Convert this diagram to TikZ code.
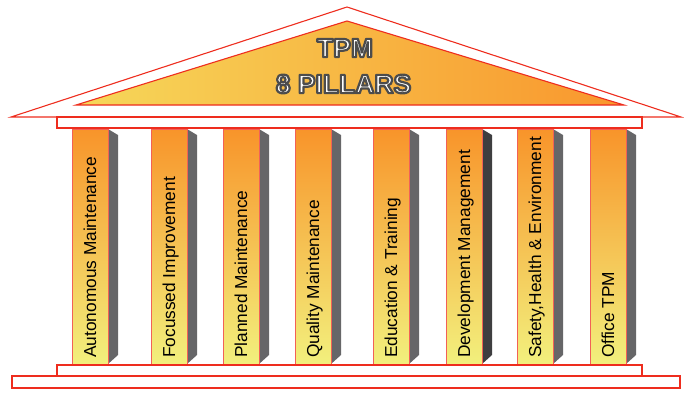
\documentclass[tikz,border=0pt]{standalone}
\usepackage{fontspec}
\setmainfont{Liberation Sans}
\definecolor{pilred}{RGB}{238,45,30}
\definecolor{porange}{RGB}{248,148,42}
\definecolor{pmid}{RGB}{247,196,80}
\definecolor{pyellow}{RGB}{242,240,125}
\definecolor{shadowgray}{RGB}{102,102,104}
\definecolor{shadowdark}{RGB}{62,62,64}
\definecolor{tyellow}{RGB}{246,216,90}
\definecolor{torange}{RGB}{249,150,45}
\tikzset{
  redbox/.style={draw=pilred, line width=1.1pt, fill=white},
  pillarfront/.style={draw=pilred!75, line width=0.7pt, top color=porange, middle color=pmid, bottom color=pyellow},
  pillartext/.style={rotate=90, anchor=base west, inner sep=0pt, font=\fontsize{17.3}{18}\selectfont, text=black},
  titletext/.style={inner sep=0pt, font=\fontsize{26.5}{28}\selectfont\bfseries, text=white}
}
\newcommand\tpmpillar[4]{%
  \fill[#4] (#1+36,129) -- (#1+46,135) -- (#1+46,355) -- (#1+36,364) -- cycle;
  \path[pillarfront] (#1,129) rectangle (#1+36,364);
  \node[pillartext] (#2) at (#1+24,358) {#3};
}
\newcommand\outlined[3]{%
  \node[titletext] (#1) at (#2) {\special{pdf:literal direct 2 Tr 2.2 w 1 j 0.3 0.3 0.3 RG}#3\special{pdf:literal direct 0 Tr}};
}
\begin{document}
\begin{tikzpicture}[x=1pt,y=-1pt]
\useasboundingbox (0,0) rectangle (684,392);
% roof
\path[redbox] (11,117) -- (347,7) -- (681,117) -- cycle;
\path[draw=pilred, line width=1.1pt, left color=tyellow, right color=torange] (76,105) -- (347,21) -- (624,105) -- cycle;
\outlined{tpm}{345,48}{TPM}
\outlined{pillars}{343.5,84}{8 PILLARS}
% pillars
\tpmpillar{72}{p1}{Autonomous Maintenance}{shadowgray}
\tpmpillar{151}{p2}{Focussed Improvement}{shadowgray}
\tpmpillar{223}{p3}{Planned Maintenance}{shadowgray}
\tpmpillar{295}{p4}{Quality Maintenance}{shadowgray}
\tpmpillar{373}{p5}{Education \& Training}{shadowgray}
\tpmpillar{446}{p6}{Development Management}{shadowdark}
\tpmpillar{517}{p7}{Safety,Health \& Environment}{shadowgray}
\tpmpillar{590}{p8}{Office TPM}{shadowgray}
% entablature and base
\path[redbox] (57,117) rectangle (642,128);
\path[redbox] (12,376) rectangle (680,388);
\path[redbox] (57,365) rectangle (642,376);
\end{tikzpicture}
\end{document}
